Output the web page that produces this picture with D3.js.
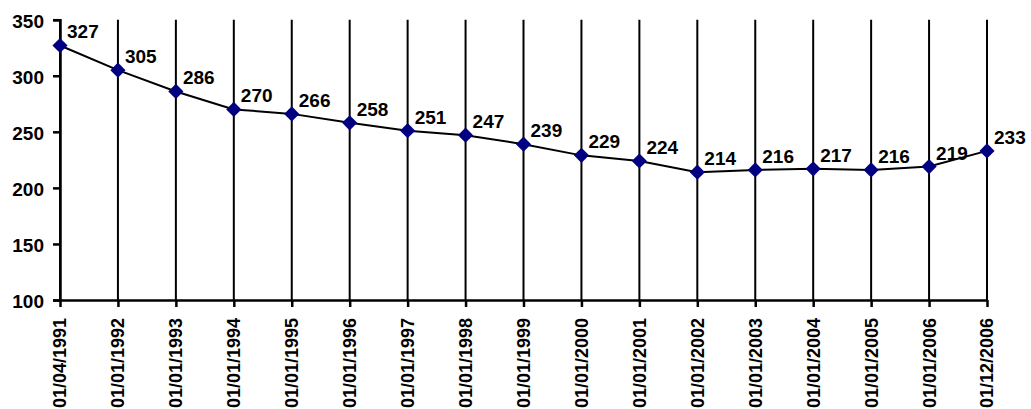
<!DOCTYPE html>
<html>
<head>
<meta charset="utf-8">
<script src="https://cdn.jsdelivr.net/npm/d3@7"></script>
<style>
  html, body { margin: 0; padding: 0; background: #fff; }
  svg { display: block; }
  text { font-family: "Liberation Sans", Arial, sans-serif; font-weight: bold; fill: #000; }
</style>
</head>
<body>
<svg id="chart" width="1031" height="409"></svg>
<script>
const categories = ["01/04/1991","01/01/1992","01/01/1993","01/01/1994","01/01/1995","01/01/1996","01/01/1997","01/01/1998","01/01/1999","01/01/2000","01/01/2001","01/01/2002","01/01/2003","01/01/2004","01/01/2005","01/01/2006","01/12/2006"];
const values = [327,305,286,270,266,258,251,247,239,229,224,214,216,217,216,219,233];
const yTicks = [100,150,200,250,300,350];

const svg = d3.select("#chart");
const x = d3.scalePoint().domain(categories).range([60, 987]);
const y = d3.scaleLinear().domain([100, 350]).range([300, 19.7]);

// vertical gridlines at each category
svg.append("g").selectAll("line").data(categories).join("line")
  .attr("x1", d => x(d)).attr("x2", d => x(d))
  .attr("y1", y(350)).attr("y2", y(100))
  .attr("stroke", "#000").attr("stroke-width", 2);

// y axis
const yAxis = d3.axisLeft(y).tickValues(yTicks).tickSize(7).tickPadding(9);
const gy = svg.append("g").attr("transform", "translate(60,0)").call(yAxis);
gy.select(".domain").attr("stroke", "#000").attr("stroke-width", 2.5);
gy.selectAll(".tick line").attr("stroke", "#000").attr("stroke-width", 2.5);
gy.selectAll(".tick text").attr("font-size", 19).attr("font-family", "Liberation Sans, Arial, sans-serif")
  .attr("font-weight", "bold").attr("fill", "#000").attr("dy", "0.42em");

// x axis
const xAxis = d3.axisBottom(x).tickSize(7).tickPadding(0).tickSizeOuter(0);
const gx = svg.append("g").attr("transform", "translate(0,300)").call(xAxis);
gx.select(".domain").attr("stroke", "#000").attr("stroke-width", 2.5);
gx.selectAll(".tick line").attr("stroke", "#000").attr("stroke-width", 2.5);
gx.selectAll(".tick text")
  .attr("font-size", 18).attr("font-family", "Liberation Sans, Arial, sans-serif")
  .attr("font-weight", "bold").attr("fill", "#000")
  .attr("text-anchor", "end")
  .attr("transform", "translate(0,18) rotate(-90)")
  .attr("x", 0).attr("y", 0).attr("dy", "0.33em");

// line
const line = d3.line().x((d, i) => x(categories[i])).y(d => y(d));
svg.append("path").datum(values).attr("d", line)
  .attr("fill", "none").attr("stroke", "#000").attr("stroke-width", 2);

// markers
const diamond = d3.symbol().type(d3.symbolSquare).size(115);
svg.append("g").selectAll("path").data(values).join("path")
  .attr("d", diamond)
  .attr("transform", (d, i) => `translate(${x(categories[i])},${y(d)}) rotate(45)`)
  .attr("fill", "#000080");

// data labels
svg.append("g").selectAll("text").data(values).join("text")
  .attr("x", (d, i) => x(categories[i]) + 7)
  .attr("y", d => y(d) - 7)
  .attr("font-size", 19)
  .text(d => d);
</script>
</body>
</html>
